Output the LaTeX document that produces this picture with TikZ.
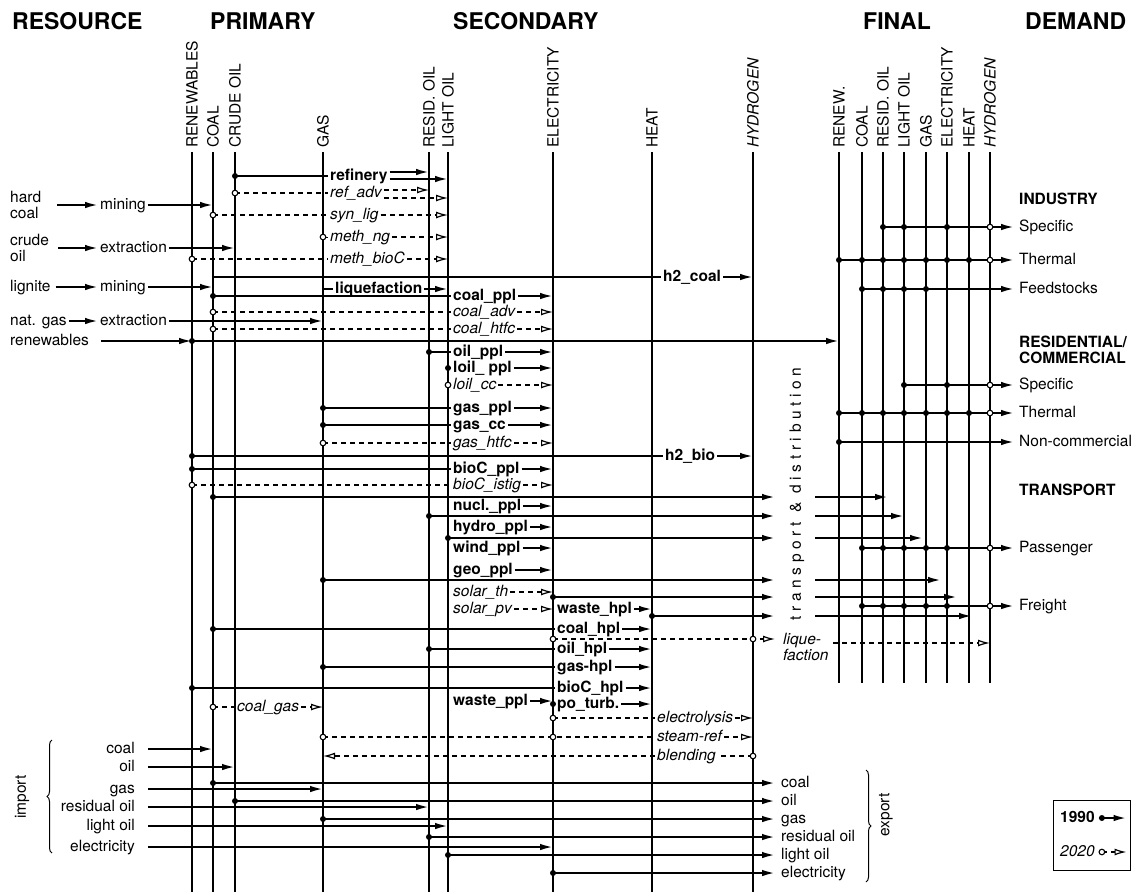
\documentclass[tikz,border=0pt]{standalone}
\usepackage{fontspec}
\setmainfont{TeX Gyre Heros}
\usetikzlibrary{arrows.meta,positioning,calc,decorations.pathreplacing}
\newcommand\lblfont{\fontsize{15.5}{13}\selectfont}
\newcommand\twofont{\fontsize{15.5}{16}\selectfont}

\begin{document}
\begin{tikzpicture}[x=1pt,y=-1pt,
  col/.style={line width=1.2pt},
  ln/.style={line width=2pt},
  flow/.style={ln,-{Latex[length=13pt,width=6.5pt]}},
  fln/.style={ln,dash pattern=on 5pt off 4pt},
  fut/.style={fln,-{Latex[open,length=12pt,width=7pt,line width=1.2pt]}},
  odt/.style={fill=white,draw=black,line width=1.1pt},
  lbl/.style={font=\lblfont,inner xsep=2pt,inner ysep=0pt,text height=11pt,text depth=3pt,anchor=west},
  blbl/.style={lbl,font=\lblfont\bfseries},
  ilbl/.style={lbl,font=\lblfont\itshape},
  mlbl/.style={font=\twofont,inner sep=0pt,align=left,anchor=west},
  clbl/.style={font=\lblfont,inner sep=0pt,rotate=90,anchor=west},
  hdr/.style={font=\fontsize{23}{23}\selectfont\bfseries,inner sep=0pt,anchor=base west},
  brc/.style={line width=1pt,decorate,decoration={brace,amplitude=5pt}}
]
\useasboundingbox (0,0) rectangle (1138,892);

% Headers
\node[hdr] (hRes) at (12,29) {RESOURCE};
\node[hdr] (hPri) at (210,29) {PRIMARY};
\node[hdr] (hSec) at (453,29) {SECONDARY};
\node[hdr] (hFin) at (863,29) {FINAL};
\node[hdr] (hDem) at (1025,29) {DEMAND};

% Energy carrier columns
\foreach \nd/\x/\txt in {pRen/192/RENEWABLES, pCoal/213/COAL, pCrude/235/CRUDE OIL, pGas/323/GAS,
    sResid/429/RESID. OIL, sLight/448/LIGHT OIL, sElec/553/ELECTRICITY, sHeat/652/HEAT, sHyd/753/\textit{HYDROGEN}}{
  \coordinate (\nd) at (\x,152);
  \node[clbl] (\nd-l) at (\x,148) {\txt};
  \draw[col] (\nd) -- (\x,892);
}
\foreach \nd/\x/\txt in {fRen/839/RENEW., fCoal/862/COAL, fResid/883/RESID. OIL, fLight/904/LIGHT OIL,
    fGas/926/GAS, fElec/947/ELECTRICITY, fHeat/969/HEAT, fHyd/990/\textit{HYDROGEN}}{
  \coordinate (\nd) at (\x,152);
  \node[clbl] (\nd-l) at (\x,148) {\txt};
  \draw[col] (\nd) -- (\x,683);
}

% Resource extraction
\node[mlbl] (hcoal) at (10,205) {hard\\coal};
\node[lbl] (mine1) at (98,205) {mining};
\node[mlbl] (croil) at (10,248) {crude\\oil};
\node[lbl] (ext1) at (98,248) {extraction};
\node[lbl] (lign) at (8,287) {lignite};
\node[lbl] (mine2) at (98,287) {mining};
\node[lbl] (ngas) at (8,321) {nat. gas};
\node[lbl] (ext2) at (98,321) {extraction};
\node[lbl] (renw) at (8,341) {renewables};
\draw[flow,shorten <=16pt] (hcoal.east) -- (mine1.west);
\draw[flow,shorten <=9pt] (croil.east) -- (ext1.west);
\draw[flow,shorten <=3pt] (lign.east) -- (mine2.west);
\draw[flow] (ngas.east) -- (ext2.west);
\draw[flow] (mine1.east) -- (pCoal |- mine1);
\draw[flow] (ext1.east) -- (pCrude |- ext1);
\draw[flow] (mine2.east) -- (pCoal |- mine2);
\draw[flow] (ext2.east) -- (pGas |- ext2);
\draw[flow,shorten <=10pt] (renw.east) -- (pRen |- renw);
\draw[flow] (pRen |- renw) -- (fRen |- renw);
\fill (pRen |- renw) circle[radius=3pt];

% Oil conversion
\node[blbl] (refin) at (328,176) {refinery};
\node[ilbl] (refadv) at (328,193) {ref\_adv};
\node[ilbl] (synlig) at (328,215) {syn\_lig};
\node[ilbl] (methng) at (328,237) {meth\_ng};
\node[ilbl] (methbio) at (328,259) {meth\_bioC};
\node[blbl] (liqu) at (333,289) {liquefaction};
\draw[ln] (pCrude |- refin) -- (refin.west);
\coordinate (refA) at ([yshift=4pt]refin.east);
\coordinate (refB) at ([yshift=-3pt]refin.east);
\draw[flow] (refA) -- (refA -| sResid);
\draw[flow] (refB) -- (refB -| sLight);
\draw[fln] (pCrude |- refadv) -- (refadv.west);
\coordinate (raA) at ([yshift=3pt]refadv.east);
\coordinate (raB) at ([yshift=-5pt]refadv.east);
\draw[fut] (raA) -- (raA -| sResid);
\draw[fut] (raB) -- (raB -| sLight);
\draw[fln] (pCoal |- synlig) -- (synlig.west);
\draw[fut] (synlig.east) -- (synlig.east -| sLight);
\draw[line width=1pt] (pGas |- methng) -- (methng.west);
\draw[fut] (methng.east) -- (methng.east -| sLight);
\draw[fln] (pRen |- methbio) -- (methbio.west);
\draw[fut] (methbio.east) -- (methbio.east -| sLight);
\draw[ln] (pGas |- liqu) -- (liqu.west);
\draw[flow] (liqu.east) -- (liqu.east -| sLight);
\fill (pCrude |- refin) circle[radius=3pt];
\foreach \cl/\nd in {pCrude/refadv, pCoal/synlig, pGas/methng, pRen/methbio}
  \filldraw[odt] (\cl |- \nd) circle[radius=2.8pt];

% Hydrogen from coal and biomass
\node[blbl] (htwoc) at (661,277) {h2\_coal};
\node[blbl] (htwob) at (663,456) {h2\_bio};
\draw[ln] (pCoal |- htwoc) -- (htwoc.west);
\draw[flow] (htwoc.east) -- (htwoc.east -| sHyd);
\draw[ln] (pRen |- htwob) -- (htwob.west);
\draw[flow] (htwob.east) -- (htwob.east -| sHyd);
\fill (pRen |- htwob) circle[radius=3pt];

% Power plants
\node[blbl] (cppl) at (451,296) {coal\_ppl};
\node[ilbl] (cadv) at (451,312) {coal\_adv};
\node[ilbl] (chtfc) at (451,329) {coal\_htfc};
\node[blbl] (oppl) at (451,352) {oil\_ppl};
\node[blbl] (lppl) at (451,368) {loil\_ ppl};
\node[ilbl] (lcc) at (451,385) {loil\_cc};
\node[blbl] (gppl) at (451,408) {gas\_ppl};
\node[blbl] (gcc) at (451,425) {gas\_cc};
\node[ilbl] (ghtfc) at (451,443) {gas\_htfc};
\node[blbl] (bppl) at (451,469) {bioC\_ppl};
\node[ilbl] (bistig) at (451,485) {bioC\_istig};
\node[blbl] (nppl) at (451,506) {nucl.\_ppl};
\node[blbl] (hppl) at (451,527) {hydro\_ppl};
\node[blbl] (wppl) at (451,548) {wind\_ppl};
\node[blbl] (geppl) at (451,570) {geo\_ppl};
\node[ilbl] (solth) at (451,592) {solar\_th};
\node[ilbl] (solpv) at (451,609) {solar\_pv};
\node[blbl] (wsppl) at (451,701) {waste\_ppl};
\foreach \nd in {cppl,oppl,lppl,gppl,gcc,bppl,nppl,hppl,wppl,geppl,wsppl}
  \draw[flow] (\nd.east) -- (\nd.east -| sElec);
\foreach \nd in {cadv,chtfc,lcc,ghtfc,bistig,solth,solpv}
  \draw[fut] (\nd.east) -- (\nd.east -| sElec);
\foreach \cl/\nd in {pCoal/cppl, sResid/oppl, sLight/lppl, pGas/gppl, pGas/gcc, pRen/bppl}{
  \draw[ln] (\cl |- \nd) -- (\nd.west);
  \fill (\cl |- \nd) circle[radius=3pt];
}
\foreach \cl/\nd in {pCoal/cadv, pCoal/chtfc, sLight/lcc, pGas/ghtfc, pRen/bistig}{
  \draw[fln] (\cl |- \nd) -- (\nd.west);
  \filldraw[odt] (\cl |- \nd) circle[radius=2.8pt];
}

% Heat plants
\node[blbl] (whpl) at (555,609) {waste\_hpl};
\node[blbl] (chpl) at (555,629) {coal\_hpl};
\node[blbl] (ohpl) at (555,649) {oil\_hpl};
\node[blbl] (ghpl) at (555,667) {gas-hpl};
\node[blbl] (bhpl) at (555,688) {bioC\_hpl};
\node[blbl] (poturb) at (555,704) {po\_turb.};
\foreach \nd in {whpl,chpl,ohpl,ghpl,bhpl,poturb}
  \draw[flow] (\nd.east) -- (\nd.east -| sHeat);
\foreach \cl/\nd in {pCoal/chpl, sResid/ohpl, pGas/ghpl, pRen/bhpl, sElec/poturb}{
  \draw[ln] (\cl |- \nd) -- (\nd.west);
  \fill (\cl |- \nd) circle[radius=3pt];
}

% Hydrogen production and use
\node[ilbl] (elys) at (655,718) {electrolysis};
\node[ilbl] (stref) at (655,737) {steam-ref};
\node[ilbl] (blend) at (655,756) {blending};
\node[ilbl] (cgas) at (235,707) {coal\_gas};
\draw[fln] (sElec |- elys) -- (elys.west);
\draw[fut] (elys.east) -- (elys.east -| sHyd);
\draw[fln] (pGas |- stref) -- (stref.west);
\draw[fut] (stref.east) -- (stref.east -| sHyd);
\draw[fln] (sHyd |- blend) -- (blend.east);
\draw[fut] (blend.west) -- (blend.west -| pGas);
\draw[fln] (pCoal |- cgas) -- (cgas.west);
\draw[fut] (cgas.east) -- (cgas.east -| pGas);
\foreach \cl/\nd in {sElec/elys, pGas/stref, sElec/stref, sHyd/blend, pCoal/cgas}
  \filldraw[odt] (\cl |- \nd) circle[radius=2.8pt];

% Liquefaction of hydrogen
\node[mlbl,font=\twofont\itshape] (liqf) at (783,647) {lique-\\faction};
\coordinate (lqE) at (775,639);
\coordinate (lqR) at ([yshift=4pt]liqf.east);
\draw[fut] (sElec |- lqE) -- (lqE);
\draw[fut] ([xshift=4pt]lqR) -- (lqR -| fHyd);
\filldraw[odt] (sElec |- lqE) circle[radius=2.8pt];
\filldraw[odt] (sHyd |- lqE) circle[radius=2.8pt];

% Transport & distribution
\node[font=\lblfont\addfontfeature{LetterSpace=30},rotate=90,inner sep=0pt] (tdist) at (797,494) {transport \& distribution};
\foreach \yy/\cl in {497/pCoal, 516/sResid, 538/sLight, 580/pGas, 597/sElec, 616/sHeat}{
  \draw[flow] (\cl |- 0,\yy) -- (775,\yy);
  \fill (\cl |- 0,\yy) circle[radius=3pt];
}
\foreach \yy/\xe in {497/888, 516/904, 538/923, 580/941, 597/957, 616/972}
  \draw[flow] (815,\yy) -- (\xe,\yy);

% Demand sectors
\node[blbl] (ind) at (1017,200) {INDUSTRY};
\node[lbl] (iSpec) at (1017,227) {Specific};
\node[lbl] (iTherm) at (1017,260) {Thermal};
\node[lbl] (iFeed) at (1017,289) {Feedstocks};
\node[mlbl,font=\twofont\bfseries] (resc) at (1019,350) {RESIDENTIAL/\\COMMERCIAL};
\node[lbl] (rSpec) at (1017,385) {Specific};
\node[lbl] (rTherm) at (1017,413) {Thermal};
\node[lbl] (rNon) at (1017,442) {Non-commercial};
\node[blbl] (trn) at (1017,491) {TRANSPORT};
\node[lbl] (tPass) at (1017,548) {Passenger};
\node[lbl] (tFrt) at (1017,606) {Freight};
\foreach \nd/\cl in {iSpec/fResid, iTherm/fRen, iFeed/fCoal, rSpec/fLight, rTherm/fRen, rNon/fRen, tPass/fCoal, tFrt/fCoal}
  \draw[flow,shorten >=3pt] (\cl |- \nd) -- (\nd.west);
\foreach \nd/\cs in {iSpec/{fResid,fLight,fElec}, iTherm/{fRen,fCoal,fResid,fLight,fGas,fElec,fHeat},
    iFeed/{fCoal,fResid,fLight,fGas}, rSpec/{fLight,fElec}, rTherm/{fRen,fCoal,fResid,fLight,fGas,fElec,fHeat},
    rNon/{fRen}, tPass/{fCoal,fResid,fLight,fGas,fElec}, tFrt/{fCoal,fResid,fLight,fGas,fElec}}
  \foreach \cl in \cs \fill (\cl |- \nd) circle[radius=3pt];
\foreach \nd in {iSpec,iTherm,rSpec,rTherm,tPass,tFrt}
  \filldraw[odt] (fHyd |- \nd) circle[radius=2.8pt];

% Import
\foreach \nd/\yy/\txt/\cl in {icoal/749/coal/pCoal, ioil/767/oil/pCrude, igas/789/gas/pGas,
    irsd/807/residual oil/sResid, ilgt/826/light oil/sLight, iel/847/electricity/sElec}{
  \node[lbl,anchor=east] (\nd) at (137,\yy) {\txt};
  \draw[flow,shorten <=11pt] (\nd.east) -- (\cl |- \nd);
}
\draw[brc] (52,853) -- (52,740);
\node[font=\lblfont,rotate=90,inner sep=0pt] (imp) at (22,797) {import};

% Export
\foreach \nd/\yy/\txt/\cl in {ecoal/783/coal/pCoal, eoil/801/oil/pCrude, egas/819/gas/pGas,
    ersd/837/residual oil/sResid, elgt/855/light oil/sLight, eel/873/electricity/sElec}{
  \node[lbl] (\nd) at (779,\yy) {\txt};
  \draw[flow,shorten >=4pt] (\cl |- \nd) -- (\nd.west);
  \fill (\cl |- \nd) circle[radius=3pt];
}
\draw[brc] (866,770) -- (866,882);
\node[font=\lblfont,rotate=90,inner sep=0pt] (expo) at (886,815) {export};

% Legend
\node[draw,line width=1pt,minimum width=77pt,minimum height=70pt,inner sep=0pt] (leg) at (1091.5,835) {};
\node[blbl] (l90) at (1058,818) {1990};
\node[ilbl] (l20) at (1058,852) {2020};
\coordinate (lgA) at ([xshift=5pt]l90.east);
\coordinate (lgB) at ([xshift=5pt]l20.east);
\draw[flow,shorten >=4pt] (lgA) -- (lgA -| leg.east);
\draw[fut,shorten >=4pt] (lgB) -- (lgB -| leg.east);
\fill (lgA) circle[radius=3pt];
\filldraw[odt] (lgB) circle[radius=2.8pt];
\end{tikzpicture}
\end{document}
